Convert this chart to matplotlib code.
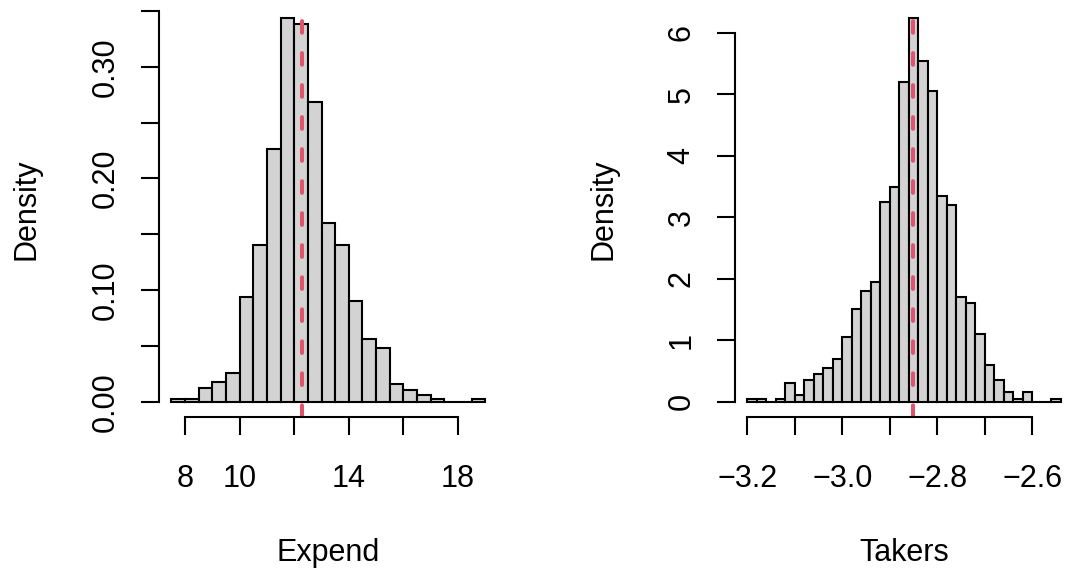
import matplotlib.pyplot as plt
import numpy as np

plt.rcParams['font.family'] = ['Liberation Sans', 'DejaVu Sans']

# bootstrap distribution of the Expend coefficient (density, bin width 0.5)
expend_edges = [7.5, 8.0, 8.5, 9.0, 9.5, 10.0, 10.5, 11.0, 11.5, 12.0, 12.5, 13.0,
                13.5, 14.0, 14.5, 15.0, 15.5, 16.0, 16.5, 17.0, 17.5, 18.0, 18.5, 19.0]
expend_density = [0.002, 0.002, 0.012, 0.018, 0.026, 0.094, 0.140, 0.226, 0.344,
                  0.338, 0.268, 0.160, 0.140, 0.090, 0.056, 0.048, 0.016, 0.010,
                  0.006, 0.002, 0.0, 0.0, 0.002]
expend_mean = 12.27
expend_xticks = [8, 10, 12, 14, 16, 18]
expend_xlabels = ['8', '10', '', '14', '', '18']
expend_yticks = [0.0, 0.05, 0.10, 0.15, 0.20, 0.25, 0.30, 0.35]
expend_ylabels = ['0.00', '', '0.10', '', '0.20', '', '0.30', '']

# bootstrap distribution of the Takers coefficient (density, bin width 0.02)
takers_edges = [-3.20, -3.18, -3.16, -3.14, -3.12, -3.10, -3.08, -3.06, -3.04, -3.02,
                -3.00, -2.98, -2.96, -2.94, -2.92, -2.90, -2.88, -2.86, -2.84, -2.82,
                -2.80, -2.78, -2.76, -2.74, -2.72, -2.70, -2.68, -2.66, -2.64, -2.62,
                -2.60, -2.58, -2.56, -2.54]
takers_density = [0.05, 0.05, 0.0, 0.05, 0.30, 0.10, 0.35, 0.45, 0.55, 0.70, 1.05,
                  1.50, 1.80, 1.95, 3.25, 3.50, 5.20, 6.25, 5.55, 5.05, 3.35, 3.20,
                  1.70, 1.60, 1.10, 0.60, 0.35, 0.15, 0.05, 0.15, 0.0, 0.0, 0.05]
takers_mean = -2.851
takers_xticks = [-3.2, -3.1, -3.0, -2.9, -2.8, -2.7, -2.6]
takers_xlabels = ['\u22123.2', '', '\u22123.0', '', '\u22122.8', '', '\u22122.6']
takers_yticks = [0, 1, 2, 3, 4, 5, 6]
takers_ylabels = ['0', '1', '2', '3', '4', '5', '6']

W, H = 1068, 571
fig = plt.figure(figsize=(W / 100, H / 100), dpi=100)


def add_axes_px(x0, x1, y_top, y_bottom):
    return fig.add_axes([x0 / W, 1 - y_bottom / H, (x1 - x0) / W, (y_bottom - y_top) / H])


def draw_hist(ax, edges, density, mean, xticks, xlabels, yticks, ylabels, xlabel):
    edges = np.asarray(edges)
    ax.bar(edges[:-1], density, width=np.diff(edges), align='edge',
           color='#D3D3D3', edgecolor='black', linewidth=1.5)
    ax.axvline(mean, color='#DF536B', lw=2.9, linestyle=(0, (2.9, 5.05)),
               dash_capstyle='round')

    # R style limits: range extended by 4%
    span = edges[-1] - edges[0]
    ax.set_xlim(edges[0] - 0.04 * span, edges[-1] + 0.04 * span)
    top = max(density)
    ax.set_ylim(-0.04 * top, 1.04 * top)

    for s in ['top', 'right']:
        ax.spines[s].set_visible(False)
    ax.spines['left'].set_bounds(yticks[0], yticks[-1])
    ax.spines['bottom'].set_bounds(xticks[0], xticks[-1])
    ax.spines['left'].set_linewidth(1.5)
    ax.spines['bottom'].set_linewidth(1.5)

    ax.set_xticks(xticks)
    ax.set_xticklabels(xlabels)
    ax.set_yticks(yticks)
    ax.set_yticklabels(ylabels, rotation=90, va='center')
    ax.tick_params(direction='out', length=13, width=1.5, labelsize=22)
    ax.tick_params(axis='x', pad=21)
    ax.tick_params(axis='y', pad=14.5)

    ax.set_xlabel(xlabel, fontsize=22, va='baseline')
    ax.xaxis.set_label_coords(0.5, -0.347)
    ax.set_ylabel('Density', fontsize=22, va='baseline')
    ax.yaxis.set_label_coords(-0.3655, 0.5)


ax1 = add_axes_px(158.8, 497.9, 2.2, 417.0)
draw_hist(ax1, expend_edges, expend_density, expend_mean,
          expend_xticks, expend_xlabels, expend_yticks, expend_ylabels, 'Expend')

ax2 = add_axes_px(734.8, 1073.3, 2.2, 417.0)
draw_hist(ax2, takers_edges, takers_density, takers_mean,
          takers_xticks, takers_xlabels, takers_yticks, takers_ylabels, 'Takers')

fig.savefig('out.png', dpi=100)
